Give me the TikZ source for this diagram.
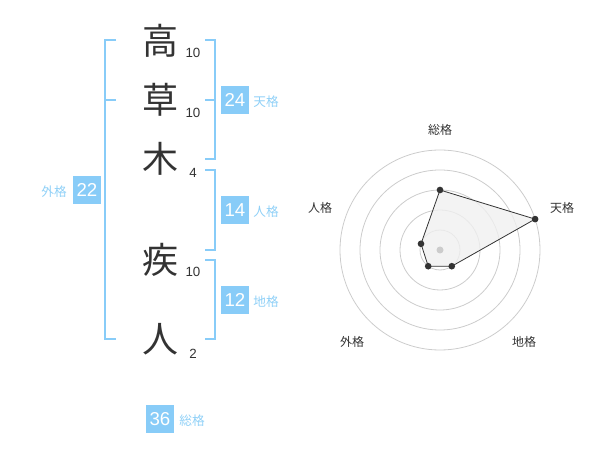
\documentclass[tikz,border=0pt]{standalone}
\usepackage{fontspec}
\setmainfont{Liberation Sans}
\newfontfamily\jp{Noto Sans CJK JP}
\definecolor{sky}{HTML}{88CCF8}
\definecolor{skytext}{HTML}{8FD0F7}
\definecolor{ink}{HTML}{333333}
\definecolor{ring}{HTML}{CCCCCC}
\begin{document}
\begin{tikzpicture}[x=0.75pt,y=-0.75pt,
  kanji/.style={font=\jp\fontsize{27}{27}\selectfont,text=ink,inner sep=0pt},
  stroke/.style={font=\fontsize{10}{10}\selectfont,text=ink,inner sep=0pt},
  numbox/.style={fill=sky,text=white,minimum width=21pt,minimum height=21pt,inner sep=0pt,font=\fontsize{14}{14}\selectfont},
  boxlabel/.style={font=\jp\fontsize{9.5}{9.5}\selectfont,text=skytext,inner sep=0pt},
  bracket/.style={draw=sky,line width=1.5pt},
  radarlabel/.style={font=\jp\fontsize{9}{9}\selectfont,text=ink,inner sep=0pt},
  dot/.style={circle,fill=ink,inner sep=0pt,minimum size=5pt}]
\useasboundingbox (0,0) rectangle (600,470);
% characters
\node[kanji] (c1) at (160,41) {高};
\node[kanji] (c2) at (160,100) {草};
\node[kanji] (c3) at (160,159) {木};
\node[kanji] (c4) at (160,260) {疾};
\node[kanji] (c5) at (160,339) {人};
\node[stroke] (s1) at (193,53) {10};
\node[stroke] (s2) at (193,113) {10};
\node[stroke] (s3) at (193,173) {4};
\node[stroke] (s4) at (193,272) {10};
\node[stroke] (s5) at (193,354) {2};
% brackets
\draw[bracket] (116,40) -- (105,40) -- (105,339) -- (116,339);
\draw[bracket] (105,100) -- (116,100);
\draw[bracket] (205,40) -- (215,40) -- (215,159) -- (205,159);
\draw[bracket] (215,100) -- (205,100);
\draw[bracket] (205,170) -- (215,170) -- (215,250) -- (205,250);
\draw[bracket] (205,260) -- (215,260) -- (215,339) -- (205,339);
% boxes
\node[numbox] (b22) at (87,190) {22};
\node[boxlabel] (l22) at (54,192) {外格};
\node[numbox] (b24) at (235,100) {24};
\node[boxlabel] (l24) at (266,102) {天格};
\node[numbox] (b14) at (235,210) {14};
\node[boxlabel] (l14) at (266,212) {人格};
\node[numbox] (b12) at (235,300) {12};
\node[boxlabel] (l12) at (266,302) {地格};
\node[numbox] (b36) at (160,419) {36};
\node[boxlabel] (l36) at (192,421) {総格};
% radar
\foreach \r in {20,40,60,80,100}
  \draw[ring,line width=0.6pt] (440,250) circle[radius=\r];
\coordinate (p1) at (440,190);
\coordinate (p2) at (535.1,219.1);
\coordinate (p3) at (451.8,266.2);
\coordinate (p4) at (428.2,266.2);
\coordinate (p5) at (421.0,243.8);
\filldraw[fill=gray!12,fill opacity=0.8,draw=ink,line width=0.6pt] (p1) -- (p2) -- (p3) -- (p4) -- (p5) -- cycle;
\fill[ring] (440,250) circle[radius=3.5];
\foreach \p in {p1,p2,p3,p4,p5} \node[dot] at (\p) {};
\node[radarlabel] (r1) at (440,130) {総格};
\node[radarlabel] (r2) at (562,208) {天格};
\node[radarlabel] (r3) at (320,208) {人格};
\node[radarlabel] (r4) at (352,342) {外格};
\node[radarlabel] (r5) at (524,342) {地格};
\end{tikzpicture}
\end{document}
